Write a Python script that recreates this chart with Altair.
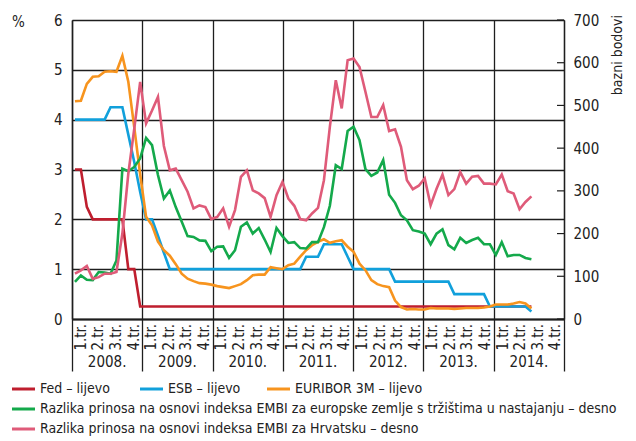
import altair as alt
import pandas as pd

FONT = "Liberation Sans Narrow, DejaVu Sans Condensed, Arial Narrow, sans-serif"

years = ["2008.", "2009.", "2010.", "2011.", "2012.", "2013.", "2014."]
quarters = ["1.tr.", "2.tr.", "3.tr.", "4.tr."]

# monthly values, Jan 2008 - Jun 2014 (left axis, %)
fed = [3.0, 3.0, 2.25, 2.0, 2.0, 2.0, 2.0, 2.0, 2.0, 1.0, 1.0, 0.25,
       0.25, 0.25, 0.25, 0.25, 0.25, 0.25, 0.25, 0.25, 0.25, 0.25, 0.25, 0.25,
       0.25, 0.25, 0.25, 0.25, 0.25, 0.25, 0.25, 0.25, 0.25, 0.25, 0.25, 0.25,
       0.25, 0.25, 0.25, 0.25, 0.25, 0.25, 0.25, 0.25, 0.25, 0.25, 0.25, 0.25,
       0.25, 0.25, 0.25, 0.25, 0.25, 0.25, 0.25, 0.25, 0.25, 0.25, 0.25, 0.25,
       0.25, 0.25, 0.25, 0.25, 0.25, 0.25, 0.25, 0.25, 0.25, 0.25, 0.25, 0.25,
       0.25, 0.25, 0.25, 0.25, 0.25, 0.25]
esb = [4.0, 4.0, 4.0, 4.0, 4.0, 4.0, 4.25, 4.25, 4.25, 3.7, 3.15, 2.55,
       2.0, 2.0, 1.67, 1.33, 1.0, 1.0, 1.0, 1.0, 1.0, 1.0, 1.0, 1.0,
       1.0, 1.0, 1.0, 1.0, 1.0, 1.0, 1.0, 1.0, 1.0, 1.0, 1.0, 1.0,
       1.0, 1.0, 1.0, 1.25, 1.25, 1.25, 1.5, 1.5, 1.5, 1.5, 1.25, 1.0,
       1.0, 1.0, 1.0, 1.0, 1.0, 1.0, 0.75, 0.75, 0.75, 0.75, 0.75, 0.75,
       0.75, 0.75, 0.75, 0.75, 0.5, 0.5, 0.5, 0.5, 0.5, 0.5, 0.25, 0.25,
       0.25, 0.25, 0.25, 0.25, 0.25, 0.15]
euribor = [4.37, 4.38, 4.72, 4.86, 4.87, 4.96, 4.97, 4.96, 5.28, 4.76, 3.85, 2.9,
           2.05, 1.88, 1.55, 1.38, 1.27, 1.1, 0.91, 0.81, 0.76, 0.72, 0.71, 0.69,
           0.66, 0.64, 0.62, 0.66, 0.70, 0.78, 0.88, 0.89, 0.89, 1.04, 1.02, 1.00,
           1.08, 1.11, 1.25, 1.38, 1.48, 1.55, 1.60, 1.53, 1.56, 1.58, 1.45, 1.35,
           1.11, 0.98, 0.78, 0.70, 0.66, 0.64, 0.37, 0.24, 0.19, 0.20, 0.19, 0.19,
           0.22, 0.21, 0.21, 0.21, 0.20, 0.21, 0.22, 0.22, 0.22, 0.23, 0.25, 0.29,
           0.29, 0.29, 0.31, 0.34, 0.31, 0.21]
# right axis, basis points
embi_eu = [87, 102, 92, 91, 110, 109, 106, 137, 352, 346, 356, 376,
           424, 407, 337, 282, 301, 262, 228, 194, 192, 184, 183, 159,
           169, 170, 143, 161, 216, 226, 200, 213, 186, 157, 213, 194,
           178, 180, 166, 165, 180, 180, 215, 265, 360, 351, 440, 450,
           419, 351, 335, 343, 372, 291, 272, 243, 231, 208, 205, 200,
           175, 200, 210, 173, 163, 190, 178, 185, 190, 175, 175, 150,
           180, 147, 150, 150, 143, 140]
embi_hr = [106, 114, 124, 94, 98, 106, 106, 110, 200, 340, 445, 555,
           458, 488, 520, 405, 348, 352, 325, 298, 259, 266, 262, 234,
           239, 259, 216, 255, 333, 348, 301, 294, 283, 239, 290, 321,
           282, 265, 234, 231, 247, 260, 325, 450, 559, 493, 606, 610,
           590, 532, 473, 473, 501, 440, 444, 403, 325, 304, 312, 329,
           266, 305, 338, 290, 304, 344, 317, 333, 335, 317, 317, 315,
           338, 299, 294, 257, 274, 287]

left_ticks = [0, 1, 2, 3, 4, 5, 6]
right_ticks = [0, 100, 200, 300, 400, 500, 600, 700]

legend_labels = ["Fed – lijevo", "ESB – lijevo", "EURIBOR 3M – lijevo",
                 "Razlika prinosa na osnovi indeksa EMBI za europske zemlje s tržištima u nastajanju – desno",
                 "Razlika prinosa na osnovi indeksa EMBI za Hrvatsku – desno"]
colors = ["#BF1E2E", "#11A0DB", "#F7941E", "#14A94B", "#DF5B79"]

n = len(fed)
W, H = 492, 299

xdata = alt.Scale(domain=[0, 83], nice=False, zero=False)
xaxis_scale = alt.Scale(domain=[0, 84], nice=False, zero=False)
yl = alt.Scale(domain=[0, 6], nice=False)
yr = alt.Scale(domain=[0, 700], nice=False)

left_axis = alt.Axis(orient="left", values=left_ticks, grid=True, gridColor="#1e1e1e",
                     gridWidth=1.3, tickSize=0, labelPadding=10, labelFontSize=15,
                     labelFont=FONT, labelColor="#222", domainColor="#1e1e1e",
                     domainWidth=1.5, title=None)
right_axis = alt.Axis(orient="right", values=right_ticks, grid=False, tickSize=0,
                      labelPadding=9, labelFontSize=15, labelFont=FONT,
                      labelColor="#222", domainColor="#1e1e1e", domainWidth=1.3,
                      title=None)


def series_line(vals, color, yscale, axis):
    df = pd.DataFrame({"pos": [i + 0.5 for i in range(n)], "v": vals})
    return alt.Chart(df).mark_line(color=color, strokeWidth=2.6).encode(
        x=alt.X("pos:Q", scale=xdata, axis=None),
        y=alt.Y("v:Q", scale=yscale, axis=axis),
    )


left = alt.layer(
    series_line(fed, colors[0], yl, left_axis),
    series_line(esb, colors[1], yl, left_axis),
    series_line(euribor, colors[2], yl, left_axis),
)

rticks = alt.Chart(pd.DataFrame({"v": right_ticks})).mark_rule(
    color="#1e1e1e", strokeWidth=1.2).encode(
    x=alt.value(W - 7), x2=alt.value(W), y=alt.Y("v:Q", scale=yr, axis=right_axis))

right = alt.layer(
    series_line(embi_eu, colors[3], yr, right_axis),
    series_line(embi_hr, colors[4], yr, right_axis),
    rticks,
)

# x axis: quarters and years
qdf = pd.DataFrame({
    "pos": [yi * 12 + qi * 3 + 1.5 for yi in range(len(years)) for qi in range(4)],
    "t": [q for _ in years for q in quarters],
})
ydf = pd.DataFrame({"pos": [yi * 12 + 6 for yi in range(len(years))], "t": years})

bottom_axis = alt.Axis(orient="bottom", values=[0, 12, 24, 36, 48, 60, 72, 84],
                       grid=True, gridColor="#1e1e1e", gridWidth=1.3, labels=False,
                       tickSize=52, tickColor="#1e1e1e", tickWidth=1.3,
                       domainColor="#1e1e1e", domainWidth=2, title=None)

qlab = alt.Chart(qdf).mark_text(angle=270, align="right", baseline="middle",
                                fontSize=15, font=FONT, color="#222").encode(
    x=alt.X("pos:Q", scale=xaxis_scale, axis=bottom_axis), y=alt.value(H + 5), text="t:N")
ylab = alt.Chart(ydf).mark_text(align="center", baseline="middle",
                                fontSize=15, font=FONT, color="#222").encode(
    x=alt.X("pos:Q", scale=xaxis_scale, axis=bottom_axis), y=alt.value(H + 43), text="t:N")
axes = alt.layer(qlab, ylab)

extras = []
extras.append(alt.Chart(pd.DataFrame({"a": [0]})).mark_rule(color="#9a9a9a", strokeWidth=1.6).encode(
    x=alt.value(-60), x2=alt.value(553), y=alt.value(-15)))
extras.append(alt.Chart(pd.DataFrame({"t": ["%"]})).mark_text(
    align="left", baseline="middle", fontSize=15, font=FONT, color="#222").encode(
    x=alt.value(-60), y=alt.value(2), text="t:N"))
extras.append(alt.Chart(pd.DataFrame({"t": ["bazni bodovi"]})).mark_text(
    angle=270, align="right", baseline="middle", fontSize=14, font=FONT, color="#222").encode(
    x=alt.value(546), y=alt.value(-5), text="t:N"))

leg_pos = [(-60, 369), (68, 369), (195, 369), (-60, 389), (-60, 409)]
for (lx, ly), lab, col in zip(leg_pos, legend_labels, colors):
    extras.append(alt.Chart(pd.DataFrame({"t": [lab]})).mark_rule(color=col, strokeWidth=3).encode(
        x=alt.value(lx), x2=alt.value(lx + 23), y=alt.value(ly)))
    extras.append(alt.Chart(pd.DataFrame({"t": [lab]})).mark_text(
        align="left", baseline="middle", fontSize=14, font=FONT, color="#222").encode(
        x=alt.value(lx + 28), y=alt.value(ly), text="t:N"))

chart = alt.layer(axes, left, right, *extras).resolve_scale(
    x="independent", y="independent"
).properties(
    width=W, height=H,
    padding={"left": 64, "top": 12, "right": 64, "bottom": 121},
    autosize=alt.AutoSizeParams(type="none"),
).configure_view(stroke=None).configure(background="white")

chart.save("out.html", embed_options={"renderer": "svg", "actions": False})
